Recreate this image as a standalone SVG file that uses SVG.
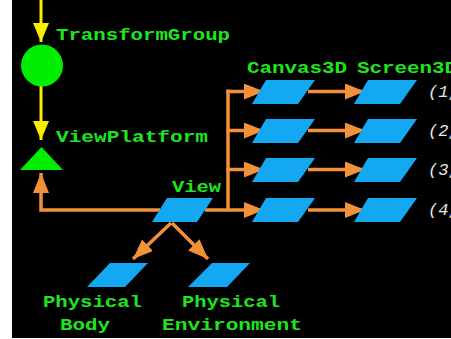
<svg xmlns="http://www.w3.org/2000/svg" width="451" height="339" viewBox="0 0 451 339">
<defs>
<style>
.lbl{font-family:"Liberation Mono","Courier New",monospace;font-weight:bold;font-size:17px;fill:#1ee61e}
.idx{font-family:"Liberation Mono","Courier New",monospace;font-style:italic;font-size:17px;fill:#e6e6e6}
.o{stroke:#f2913a;stroke-width:3.5;fill:none}
.y{stroke:#f8ee00;stroke-width:3;fill:none}
.par{fill:#14a8f2}
</style>
<marker id="ao" markerUnits="userSpaceOnUse" markerWidth="22" markerHeight="18" refX="20" refY="8" orient="auto">
<polygon points="0,0 20,8 0,16" fill="#f2913a"/>
</marker>
<marker id="ay" markerUnits="userSpaceOnUse" markerWidth="20" markerHeight="18" refX="19" refY="8" orient="auto">
<polygon points="0,0 19,8 0,16" fill="#f8ee00"/>
</marker>
</defs>
<rect x="0" y="0" width="451" height="339" fill="#ffffff"/>
<rect x="12" y="0" width="439" height="338" fill="#000000"/>

<g id="connectors">
<line class="y" x1="41" y1="0" x2="41" y2="42" marker-end="url(#ay)"/>
<line class="y" x1="41" y1="86" x2="41" y2="140" marker-end="url(#ay)"/>
<polyline class="o" points="160,210 41,210 41,173" marker-end="url(#ao)"/>
<polyline class="o" points="205,210 228,210"/>
<line class="o" x1="228" y1="89.5" x2="228" y2="210"/>
<line class="o" x1="226.5" y1="91.5" x2="264" y2="91.5" marker-end="url(#ao)"/>
<line class="o" x1="226.5" y1="130.5" x2="264" y2="130.5" marker-end="url(#ao)"/>
<line class="o" x1="226.5" y1="169.5" x2="264" y2="169.5" marker-end="url(#ao)"/>
<line class="o" x1="226.5" y1="210" x2="264" y2="210" marker-end="url(#ao)"/>
<line class="o" x1="308" y1="91.5" x2="365" y2="91.5" marker-end="url(#ao)"/>
<line class="o" x1="308" y1="130.5" x2="365" y2="130.5" marker-end="url(#ao)"/>
<line class="o" x1="308" y1="169.5" x2="365" y2="169.5" marker-end="url(#ao)"/>
<line class="o" x1="308" y1="210" x2="365" y2="210" marker-end="url(#ao)"/>
<line class="o" x1="171" y1="223" x2="133" y2="259" marker-end="url(#ao)"/>
<line class="o" x1="172" y1="223" x2="208" y2="259" marker-end="url(#ao)"/>
</g>

<g id="transformgroup">
<circle cx="42" cy="65.5" r="21" fill="#00ee00"/>
<text class="lbl" x="56" y="40" textLength="174" lengthAdjust="spacingAndGlyphs">TransformGroup</text>
</g>
<g id="viewplatform">
<polygon points="41.5,147 63,170 20,170" fill="#00ee00"/>
<text class="lbl" x="56" y="142" textLength="152" lengthAdjust="spacingAndGlyphs">ViewPlatform</text>
</g>
<g id="view">
<polygon class="par" points="167,198 213,198 197,222 152,222"/>
<text class="lbl" x="172" y="192" textLength="49" lengthAdjust="spacingAndGlyphs">View</text>
</g>
<g id="canvas3d-label"><text class="lbl" x="247" y="73" textLength="100" lengthAdjust="spacingAndGlyphs">Canvas3D</text></g>
<g id="screen3d-label"><text class="lbl" x="357" y="73" textLength="100" lengthAdjust="spacingAndGlyphs">Screen3D</text></g>
<g id="canvas1"><polygon class="par" points="266,80 315,80 298,104 252,104"/></g>
<g id="canvas2"><polygon class="par" points="266,119 315,119 298,143 252,143"/></g>
<g id="canvas3"><polygon class="par" points="266,158 315,158 298,182 252,182"/></g>
<g id="canvas4"><polygon class="par" points="266,198 315,198 298,222 252,222"/></g>
<g id="screen1"><polygon class="par" points="368,80 417,80 400,104 354,104"/><text class="idx" x="428" y="97">(1,</text></g>
<g id="screen2"><polygon class="par" points="368,119 417,119 400,143 354,143"/><text class="idx" x="428" y="136">(2,</text></g>
<g id="screen3"><polygon class="par" points="368,158 417,158 400,182 354,182"/><text class="idx" x="428" y="175">(3,</text></g>
<g id="screen4"><polygon class="par" points="368,198 417,198 400,222 354,222"/><text class="idx" x="428" y="215">(4,</text></g>
<g id="physical-body">
<polygon class="par" points="110,263 148,263 125,287 87,287"/>
<text class="lbl" x="43" y="307" textLength="99" lengthAdjust="spacingAndGlyphs">Physical</text>
<text class="lbl" x="60" y="330" textLength="50" lengthAdjust="spacingAndGlyphs">Body</text>
</g>
<g id="physical-environment">
<polygon class="par" points="212,263 250,263 227,287 188,287"/>
<text class="lbl" x="182" y="307" textLength="98" lengthAdjust="spacingAndGlyphs">Physical</text>
<text class="lbl" x="162" y="330" textLength="140" lengthAdjust="spacingAndGlyphs">Environment</text>
</g>
</svg>
